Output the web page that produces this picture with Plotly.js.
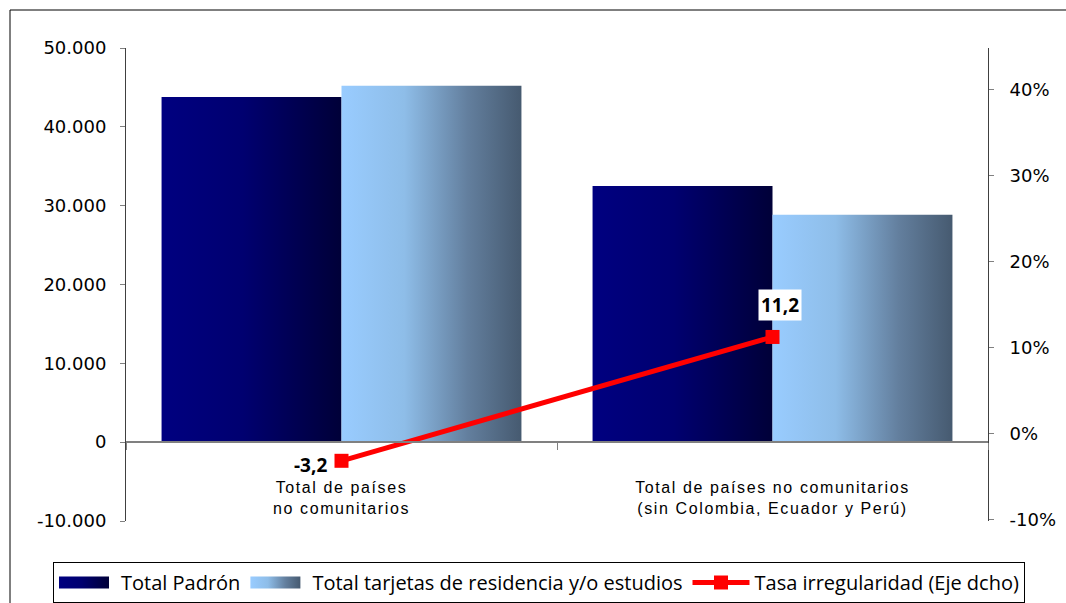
<!DOCTYPE html>
<html>
<head>
<meta charset="utf-8">
<script src="https://cdn.plot.ly/plotly-3.0.1.min.js"></script>
<style>
  html, body { margin: 0; padding: 0; background: #fff; }
  #chart { width: 1066px; height: 603px; }
  .xtick text { letter-spacing: 1.6px; }
</style>
</head>
<body>
<div id="chart"></div>
<script>
// ---- data ----
const categories = ['Total de países<br>no comunitarios', 'Total de países no comunitarios<br>(sin Colombia, Ecuador y Perú)'];
const padron = [43800, 32500];
const tarjetas = [45200, 28850];
const tasa = [-3.2, 11.2];
const seriesNames = ['Total Padrón', 'Total tarjetas de residencia y/o estudios', 'Tasa irregularidad (Eje dcho)'];
const leftTickVals = [-10000, 0, 10000, 20000, 30000, 40000, 50000];
const leftTickText = ['-10.000', '0', '10.000', '20.000', '30.000', '40.000', '50.000'];
const rightTickVals = [-10, 0, 10, 20, 30, 40];
const rightTickText = ['-10%', '0%', '10%', '20%', '30%', '40%'];

const fmt = v => v.toFixed(1).replace('.', ',');

const traces = [
  { type: 'bar', name: seriesNames[0], x: categories, y: padron,
    marker: { color: '#000080', line: { width: 0 } }, hoverinfo: 'skip' },
  { type: 'bar', name: seriesNames[1], x: categories, y: tarjetas,
    marker: { color: '#99CCFF', line: { width: 0 } }, hoverinfo: 'skip' },
  { type: 'scatter', mode: 'lines+markers', name: seriesNames[2], x: categories, y: tasa, yaxis: 'y2',
    line: { color: '#FF0000', width: 5 },
    marker: { symbol: 'square', size: 14, color: '#FF0000' }, hoverinfo: 'skip' }
];

const labelShift = [{ xanchor: 'right', xshift: -12, yshift: -4, bg: 'rgba(0,0,0,0)' },
                    { xanchor: 'center', xshift: 7, yshift: 32, bg: '#FFFFFF' }];
const annotations = tasa.map((v, i) => ({
  x: categories[i], y: v, xref: 'x', yref: 'y2',
  text: '<b>' + fmt(v) + '</b>', showarrow: false,
  xanchor: labelShift[i].xanchor, yanchor: 'middle',
  xshift: labelShift[i].xshift, yshift: labelShift[i].yshift,
  bgcolor: labelShift[i].bg, borderpad: 2,
  font: { family: 'Open Sans, DejaVu Sans, sans-serif', size: 19, color: '#000' }
}));

const layout = {
  width: 1066, height: 603,
  margin: { l: 126, r: 78, t: 48, b: 82, pad: 0, autoexpand: false },
  paper_bgcolor: '#FFFFFF', plot_bgcolor: '#FFFFFF',
  showlegend: true,
  barmode: 'group', bargap: 0.165, bargroupgap: 0,
  font: { family: 'DejaVu Sans, sans-serif', color: '#000' },
  xaxis: {
    type: 'category', anchor: 'free', position: 79 / 473, automargin: false,
    showline: true, linecolor: '#808080', linewidth: 2,
    ticks: 'outside', tickson: 'boundaries', ticklen: 7, tickcolor: '#808080', tickwidth: 1,
    ticklabelstandoff: 31,
    showgrid: false, zeroline: false,
    tickfont: { family: 'Liberation Sans, Arial, sans-serif', size: 16, color: '#000' }
  },
  yaxis: {
    range: [-10000, 50000], tickvals: leftTickVals, ticktext: leftTickText, automargin: false,
    showline: true, linecolor: '#404040', linewidth: 1,
    ticks: 'outside', ticklen: 5, tickcolor: '#808080',
    ticklabelstandoff: 10,
    showgrid: false, zeroline: false,
    tickfont: { family: 'DejaVu Sans, sans-serif', size: 18, color: '#000' }
  },
  yaxis2: {
    overlaying: 'y', side: 'right', range: [-10.2, 44.8], automargin: false,
    tickvals: rightTickVals, ticktext: rightTickText,
    showline: true, linecolor: '#404040', linewidth: 1,
    ticks: 'outside', ticklen: 5, tickcolor: '#808080',
    ticklabelstandoff: 12,
    showgrid: false, zeroline: false,
    tickfont: { family: 'DejaVu Sans, sans-serif', size: 18, color: '#000' }
  },
  legend: {
    orientation: 'h', x: -73 / 862, xanchor: 'left', y: -41 / 473, yanchor: 'top',
    bgcolor: '#FFFFFF', bordercolor: '#000000', borderwidth: 1,
    itemwidth: 57, traceorder: 'normal',
    font: { family: 'Open Sans, sans-serif', size: 20, color: '#000' }
  },
  shapes: [{
    type: 'rect', xref: 'paper', yref: 'paper',
    x0: -116 / 862, x1: 1.2, y0: -0.3, y1: 511 / 473,
    line: { color: '#000000', width: 1 }, fillcolor: 'rgba(0,0,0,0)', layer: 'below'
  }],
  annotations: annotations
};

const gradStops = [
  [['0%', '#000080'], ['45%', '#000070'], ['100%', '#000038']],
  [['0%', '#99CCFF'], ['35%', '#8EBDE8'], ['70%', '#637F9E'], ['100%', '#465A70']]
];

function applyGradients(gd) {
  const svg = gd.querySelector('svg.main-svg');
  if (!svg) return;
  let defs = svg.querySelector('defs');
  if (!defs) { defs = document.createElementNS('http://www.w3.org/2000/svg', 'defs'); svg.insertBefore(defs, svg.firstChild); }
  gradStops.forEach((stops, i) => {
    const id = 'barGrad' + i;
    if (document.getElementById(id)) return;
    const lg = document.createElementNS('http://www.w3.org/2000/svg', 'linearGradient');
    lg.setAttribute('id', id);
    lg.setAttribute('x1', '0'); lg.setAttribute('y1', '0');
    lg.setAttribute('x2', '1'); lg.setAttribute('y2', '0');
    stops.forEach(s => {
      const st = document.createElementNS('http://www.w3.org/2000/svg', 'stop');
      st.setAttribute('offset', s[0]); st.setAttribute('stop-color', s[1]);
      lg.appendChild(st);
    });
    defs.appendChild(lg);
  });
  const barTraces = gd.querySelectorAll('.barlayer .trace.bars');
  barTraces.forEach((t, i) => {
    t.querySelectorAll('path').forEach(p => { p.style.fill = 'url(#barGrad' + i + ')'; });
  });
  const legendItems = gd.querySelectorAll('.legend .traces');
  legendItems.forEach((item, i) => {
    if (i > 1) return;
    const p = item.querySelector('.legendpoints path');
    if (p) {
      p.setAttribute('d', 'M5,-6H55V6H5Z');
      p.setAttribute('transform', 'translate(0,0)');
      p.style.fill = 'url(#barGrad' + i + ')';
      p.style.stroke = 'none';
    }
  });
}

const gd = document.getElementById('chart');
Plotly.newPlot(gd, traces, layout, { displayModeBar: false, staticPlot: true }).then(() => {
  applyGradients(gd);
  gd.on('plotly_afterplot', () => applyGradients(gd));
});
</script>
</body>
</html>
